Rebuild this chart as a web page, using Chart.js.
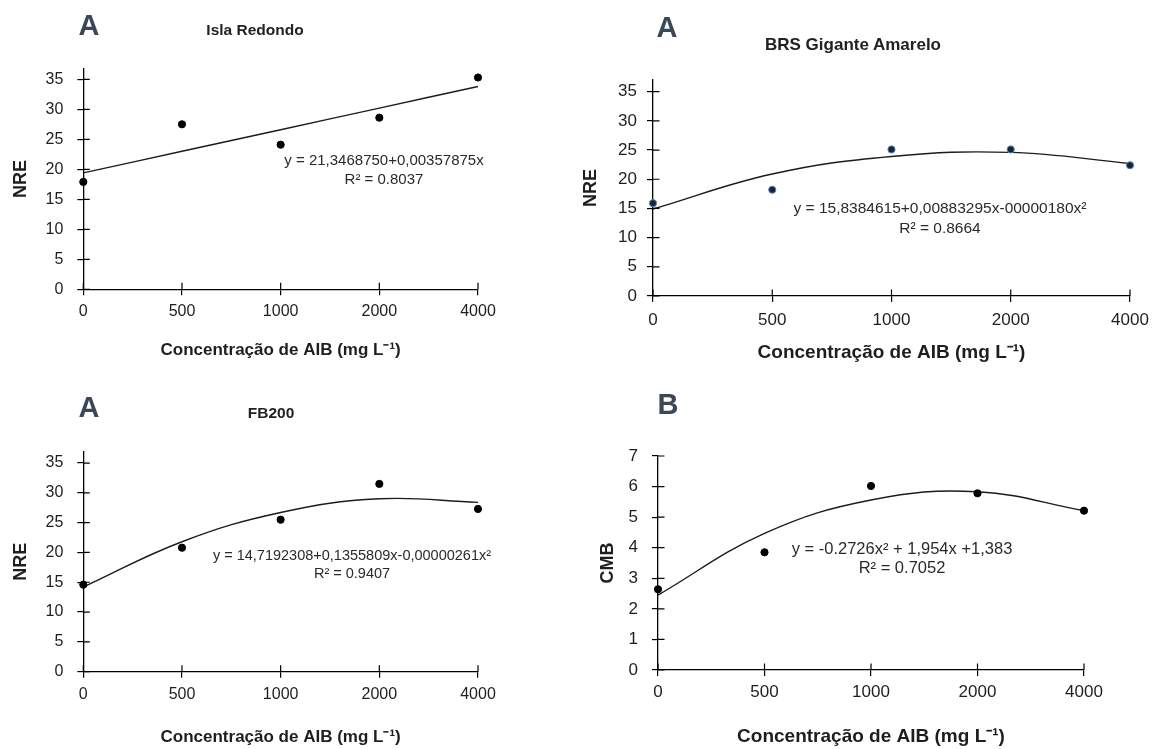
<!DOCTYPE html>
<html>
<head>
<meta charset="utf-8">
<script src="https://cdn.jsdelivr.net/npm/chart.js@4.4.1/dist/chart.umd.min.js"></script>
<style>
  html,body{margin:0;padding:0;background:#fff;}
  #wrap{position:relative;width:1158px;height:749px;overflow:hidden;font-family:"Liberation Sans",Arial,sans-serif;color:#222;}
  canvas{position:absolute;}
  .t{position:absolute;white-space:nowrap;transform:translate(-50%,-50%);line-height:1;}
  .letter{font-weight:bold;font-size:29px;color:#3a4758;}
  .ptitle{font-weight:bold;color:#222;}
  .eq{color:#2a2a2a;}
</style>
</head>
<body>
<div id="wrap">
  <canvas id="c1" width="579" height="374" style="left:0;top:0"></canvas>
  <canvas id="c2" width="579" height="374" style="left:579px;top:0"></canvas>
  <canvas id="c3" width="579" height="374" style="left:0;top:375px"></canvas>
  <canvas id="c4" width="579" height="374" style="left:579px;top:375px"></canvas>

  <div class="t letter" style="left:89px;top:25px">A</div>
  <div class="t ptitle" style="left:255px;top:30px;font-size:15.5px">Isla Redondo</div>
  <div class="t eq" style="left:384px;top:159px;font-size:15px">y = 21,3468750+0,00357875x</div>
  <div class="t eq" style="left:384px;top:178px;font-size:15px">R² = 0.8037</div>

  <div class="t letter" style="left:667px;top:27px">A</div>
  <div class="t ptitle" style="left:853px;top:44px;font-size:17px">BRS Gigante Amarelo</div>
  <div class="t eq" style="left:940px;top:208px;font-size:15.5px">y = 15,8384615+0,00883295x-00000180x²</div>
  <div class="t eq" style="left:940px;top:228px;font-size:15.5px">R² = 0.8664</div>

  <div class="t letter" style="left:89px;top:407px">A</div>
  <div class="t ptitle" style="left:271px;top:413px;font-size:15.5px">FB200</div>
  <div class="t eq" style="left:352px;top:555px;font-size:14.5px">y = 14,7192308+0,1355809x-0,00000261x²</div>
  <div class="t eq" style="left:352px;top:573px;font-size:14.5px">R² = 0.9407</div>

  <div class="t letter" style="left:668px;top:404px">B</div>
  <div class="t eq" style="left:902px;top:548px;font-size:16.5px">y = -0.2726x² + 1,954x +1,383</div>
  <div class="t eq" style="left:902px;top:567px;font-size:16.5px">R² = 0.7052</div>
</div>
<script>
// ---- data ----
const xLabels = ['0', '500', '1000', '2000', '4000'];
const nreTicks = [0, 5, 10, 15, 20, 25, 30, 35];
const cmbTicks = [0, 1, 2, 3, 4, 5, 6, 7];
const xTitle = 'Concentração de AIB (mg L⁻¹)';

const islaPoints = [17.9, 27.5, 24.1, 28.6, 35.3];
const islaTrend  = [19.4, 23.0, 26.6, 30.2, 33.8];

const brsPoints = [15.9, 18.2, 25.1, 25.1, 22.4];
const brsTrend  = [14.9, 20.9, 23.9, 24.6, 22.7];

const fbPoints = [14.6, 20.8, 25.5, 31.5, 27.3];
const fbTrend  = [14.2, 21.8, 26.7, 29.0, 28.4];

const cmbPoints = [2.64, 3.85, 6.02, 5.78, 5.21];
const cmbTrend  = [2.45, 4.47, 5.56, 5.83, 5.21];

// ---- drawing ----
const FONT = '"Liberation Sans", Arial, sans-serif';
const INNER = 6.5;

const innerTicks = {
  id: 'innerTicks',
  afterDraw(chart) {
    const ctx = chart.ctx;
    const xs = chart.scales.x, ys = chart.scales.y;
    ctx.save();
    ctx.strokeStyle = '#000';
    ctx.lineWidth = 1.2;
    ctx.beginPath();
    ys.ticks.forEach((t, i) => {
      const y = ys.getPixelForTick(i);
      ctx.moveTo(xs.left, y);
      ctx.lineTo(xs.left + INNER, y);
    });
    xs.ticks.forEach((t, i) => {
      const x = xs.getPixelForTick(i);
      ctx.moveTo(x, ys.bottom);
      ctx.lineTo(x, ys.bottom - INNER);
    });
    ctx.stroke();
    ctx.restore();
  }
};

function makeChart(id, cfg) {
  new Chart(document.getElementById(id), {
    type: 'line',
    data: {
      labels: xLabels,
      datasets: [
        {
          data: cfg.trend,
          borderColor: '#1c1c1c',
          borderWidth: 1.4,
          pointRadius: 0,
          tension: 0.4,
          fill: false,
          order: 2
        },
        {
          data: cfg.points,
          showLine: false,
          pointRadius: 3.6,
          pointBackgroundColor: cfg.pointColor,
          pointBorderColor: cfg.pointBorder,
          pointBorderWidth: 1,
          order: 1
        }
      ]
    },
    options: {
      responsive: false,
      animation: false,
      events: [],
      layout: { padding: cfg.padding },
      plugins: { legend: { display: false }, tooltip: { enabled: false }, title: { display: false } },
      scales: {
        x: {
          type: 'category',
          offset: false,
          grid: { display: true, drawOnChartArea: false, drawTicks: true, tickLength: 6, color: '#000', lineWidth: 1.2 },
          border: { display: true, color: '#000', width: 1.3 },
          ticks: { autoSkip: false, maxRotation: 0, padding: cfg.xPad, color: '#1e1e1e', font: { family: FONT, size: cfg.tickSize } },
          title: { display: true, text: xTitle, color: '#1e1e1e', font: { family: FONT, size: cfg.xTitleSize, weight: 'bold', lineHeight: 1 }, padding: { top: 0, bottom: cfg.xTitlePad } },
          afterFit(s) { s.height = cfg.xHeight; }
        },
        y: {
          type: 'linear',
          min: 0,
          max: cfg.yMax,
          grid: { display: true, drawOnChartArea: false, drawTicks: true, tickLength: 6, color: '#000', lineWidth: 1.2 },
          border: { display: true, color: '#000', width: 1.3 },
          ticks: { padding: cfg.yPad, color: '#1e1e1e', font: { family: FONT, size: cfg.tickSize } },
          afterBuildTicks(s) { s.ticks = cfg.yTicks.map(v => ({ value: v })); },
          title: { display: true, text: cfg.yTitle, color: '#1e1e1e', font: { family: FONT, size: 18, weight: 'bold', lineHeight: 1 }, padding: { top: cfg.yTitlePad, bottom: 0 } },
          afterFit(s) { s.width = cfg.yWidth; }
        }
      }
    },
    plugins: [innerTicks]
  });
}

makeChart('c1', {
  points: islaPoints, trend: islaTrend, pointColor: '#000', pointBorder: '#000',
  padding: { top: 68.5, left: 0, right: 101, bottom: 4.7 },
  yWidth: 83.3, xHeight: 80, yMax: 36.8, yTicks: nreTicks, yTitle: 'NRE',
  yTitlePad: 12, xTitlePad: 10, yPad: 14, xPad: 7, tickSize: 16, xTitleSize: 17
});
makeChart('c2', {
  points: brsPoints, trend: brsTrend, pointColor: '#14263d', pointBorder: '#5f86b3',
  padding: { top: 80, left: 0, right: 28, bottom: 8 },
  yWidth: 74, xHeight: 70, yMax: 37.0, yTicks: nreTicks, yTitle: 'NRE',
  yTitlePad: 3, xTitlePad: 4, yPad: 10, xPad: 8, tickSize: 17, xTitleSize: 19
});
makeChart('c3', {
  points: fbPoints, trend: fbTrend, pointColor: '#000', pointBorder: '#000',
  padding: { top: 76.7, left: 0, right: 101, bottom: 0.3 },
  yWidth: 83.3, xHeight: 77, yMax: 36.9, yTicks: nreTicks, yTitle: 'NRE',
  yTitlePad: 12, xTitlePad: 3, yPad: 14, xPad: 7, tickSize: 16, xTitleSize: 17
});
makeChart('c4', {
  points: cmbPoints, trend: cmbTrend, pointColor: '#000', pointBorder: '#000',
  padding: { top: 81, left: 0, right: 74, bottom: 0 },
  yWidth: 79, xHeight: 79, yMax: 7, yTicks: cmbTicks, yTitle: 'CMB',
  yTitlePad: 20, xTitlePad: 3, yPad: 14, xPad: 6, tickSize: 17, xTitleSize: 19
});
</script>
</body>
</html>
